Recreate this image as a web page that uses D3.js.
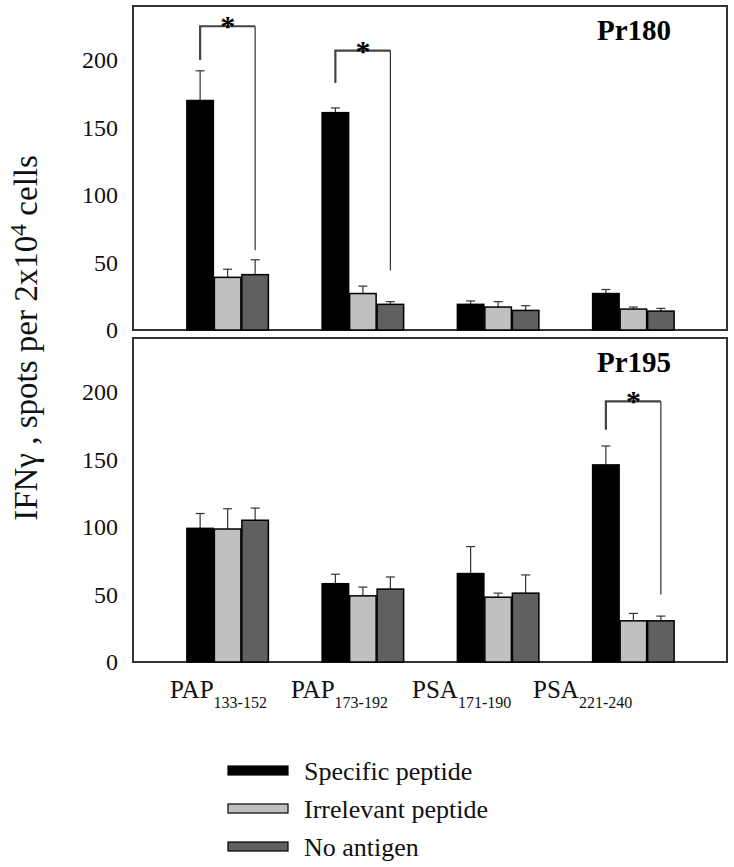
<!DOCTYPE html>
<html>
<head>
<meta charset="utf-8">
<script src="https://cdn.jsdelivr.net/npm/d3@7"></script>
<style>
  html, body { margin: 0; padding: 0; background: #fff; }
  svg { display: block; }
  svg text { font-family: "Liberation Serif", "Times New Roman", Times, serif; }
</style>
</head>
<body>
<svg id="chart" width="734" height="867"></svg>
<script>
// ---------------- data ----------------
const categories = ["PAP 133-152", "PAP 173-192", "PSA 171-190", "PSA 221-240"];
const catNames = ["PAP", "PAP", "PSA", "PSA"];
const catRanges = ["133-152", "173-192", "171-190", "221-240"];
const series = ["Specific peptide", "Irrelevant peptide", "No antigen"];
const panels = ["Pr180", "Pr195"];
const yTicks = [0, 50, 100, 150, 200];

// Pr180
const pr180Specific = [170, 161, 19, 27];
const pr180SpecificErr = [22, 3.5, 2.5, 3];
const pr180Irrelevant = [39, 27, 17, 15.5];
const pr180IrrelevantErr = [6, 5.5, 4, 1.5];
const pr180NoAntigen = [41, 19, 14.5, 14];
const pr180NoAntigenErr = [11, 2, 3.5, 2];

// Pr195
const pr195Specific = [99, 58, 65.5, 146];
const pr195SpecificErr = [11, 7, 20, 14];
const pr195Irrelevant = [98.5, 49, 48, 30.5];
const pr195IrrelevantErr = [15, 6.5, 3, 5.5];
const pr195NoAntigen = [105, 54, 51, 30.5];
const pr195NoAntigenErr = [9, 9, 13.5, 3.5];

// significance brackets (from specific to no-antigen bar)
const sigPanel = ["Pr180", "Pr180", "Pr195"];
const sigGroup = [0, 1, 3];
const sigLevel = [225, 207, 193];
const sigLeftEnd = [200, 183, 172];
const sigRightEnd = [59, 44, 50];

// ---------------- build ----------------
const FONT = "Liberation Serif";
const panelData = {
  Pr180: [
    {values: pr180Specific, errs: pr180SpecificErr},
    {values: pr180Irrelevant, errs: pr180IrrelevantErr},
    {values: pr180NoAntigen, errs: pr180NoAntigenErr}
  ],
  Pr195: [
    {values: pr195Specific, errs: pr195SpecificErr},
    {values: pr195Irrelevant, errs: pr195IrrelevantErr},
    {values: pr195NoAntigen, errs: pr195NoAntigenErr}
  ]
};

const colors = d3.scaleOrdinal().domain(series).range(["#000000", "#c0c0c0", "#606060"]);

const svg = d3.select("#chart");
const frameLeft = 133, frameRight = 727;
const panelBoxes = {Pr180: {top: 6, bottom: 330}, Pr195: {top: 338, bottom: 662}};

const x0 = d3.scaleBand().domain(categories).range([160, 701]).paddingInner(0.39).paddingOuter(0.195);
const x1 = d3.scaleBand().domain(series).range([0, x0.bandwidth()]);

panels.forEach(p => {
  const box = panelBoxes[p];
  const y = d3.scaleLinear().domain([0, 240]).range([box.bottom, box.top]);
  const g = svg.append("g");

  // frame
  g.append("rect")
    .attr("x", frameLeft).attr("y", box.top)
    .attr("width", frameRight - frameLeft).attr("height", box.bottom - box.top)
    .attr("fill", "none").attr("stroke", "#333").attr("stroke-width", 2);

  // y axis labels
  const ax = g.append("g").attr("transform", `translate(${frameLeft},0)`)
    .call(d3.axisLeft(y).tickValues(yTicks).tickSize(0).tickPadding(15));
  ax.attr("font-family", FONT).attr("font-size", 24);
  ax.select(".domain").remove();
  ax.selectAll("text").attr("font-size", 24).attr("fill", "#111")
    .style("font-family", FONT);

  // bars
  const rows = [];
  categories.forEach((c, i) => {
    series.forEach((s, j) => {
      rows.push({cat: c, ser: s, v: panelData[p][j].values[i], e: panelData[p][j].errs[i]});
    });
  });

  // error bars
  const eb = g.append("g").attr("stroke", "#333").attr("stroke-width", 1.2);
  rows.forEach(d => {
    const cx = x0(d.cat) + x1(d.ser) + x1.bandwidth() / 2;
    eb.append("line").attr("x1", cx).attr("x2", cx).attr("y1", y(d.v)).attr("y2", y(d.v + d.e));
    eb.append("line").attr("x1", cx - 4.5).attr("x2", cx + 4.5).attr("y1", y(d.v + d.e)).attr("y2", y(d.v + d.e));
  });

  g.append("g").selectAll("rect").data(rows).join("rect")
    .attr("x", d => x0(d.cat) + x1(d.ser) + 0.5)
    .attr("width", x1.bandwidth() - 1)
    .attr("y", d => y(d.v))
    .attr("height", d => y(0) - y(d.v))
    .attr("fill", d => colors(d.ser))
    .attr("stroke", "#000").attr("stroke-width", 1.5);

  // significance brackets
  sigPanel.forEach((sp, k) => {
    if (sp !== p) return;
    const c = categories[sigGroup[k]];
    const xl = x0(c) + x1(series[0]) + x1.bandwidth() / 2;
    const xr = x0(c) + x1(series[2]) + x1.bandwidth() / 2;
    const yl = y(sigLevel[k]);
    g.append("path")
      .attr("d", `M${xl},${y(sigLeftEnd[k])}V${yl}H${xr}`)
      .attr("fill", "none").attr("stroke", "#444").attr("stroke-width", 2.2);
    g.append("line")
      .attr("x1", xr).attr("x2", xr).attr("y1", yl).attr("y2", y(sigRightEnd[k]))
      .attr("stroke", "#222").attr("stroke-width", 1.1);
    g.append("text")
      .attr("x", (xl + xr) / 2).attr("y", yl + 10)
      .attr("text-anchor", "middle").attr("font-weight", "bold").attr("font-size", 30)
      .style("font-family", FONT)
      .attr("fill", "#000").text("*");
  });

  // panel label
  g.append("text")
    .attr("x", 597).attr("y", box.top + 34)
    .attr("font-weight", "bold").attr("font-size", 29).attr("fill", "#000")
    .style("font-family", FONT)
    .text(p);
});

// x category labels
const xl = d3.scalePoint().domain(categories).range([170, 533]);
categories.forEach((c, i) => {
  const t = svg.append("text")
    .attr("x", xl(c)).attr("y", 698)
    .attr("font-size", 25).attr("fill", "#111")
    .style("font-family", FONT);
  t.append("tspan").text(catNames[i]);
  t.append("tspan").attr("dy", 10).attr("font-size", 16).text(catRanges[i]);
});

// y axis title
const yt = svg.append("text")
  .attr("transform", "translate(37,338) rotate(-90)")
  .attr("text-anchor", "middle").attr("font-size", 33).attr("fill", "#111")
  .style("font-family", FONT);
yt.append("tspan").text("IFNγ , spots per 2x10");
yt.append("tspan").attr("dy", -11).attr("font-size", 24).text("4");
yt.append("tspan").attr("dy", 11).text(" cells");

// legend
const legend = svg.append("g");
series.forEach((s, i) => {
  const yy = 766 + i * 38;
  legend.append("rect")
    .attr("x", 228).attr("y", yy).attr("width", 60).attr("height", 9)
    .attr("fill", colors(s)).attr("stroke", "#000").attr("stroke-width", 1.2);
  legend.append("text")
    .attr("x", 304).attr("y", yy + 14)
    .attr("font-size", 26).attr("fill", "#111")
    .style("font-family", FONT)
    .text(s);
});
</script>
</body>
</html>
